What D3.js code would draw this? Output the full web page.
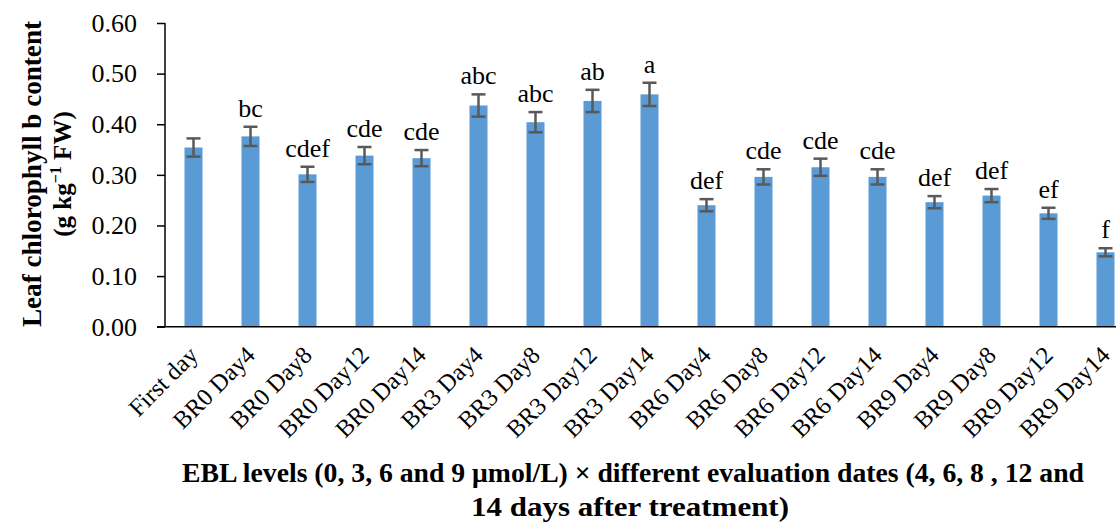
<!DOCTYPE html>
<html>
<head>
<meta charset="utf-8">
<script src="https://cdn.jsdelivr.net/npm/d3@7"></script>
<style>
  body { margin: 0; background: #fff; }
  svg { display: block; }
  text { font-family: "Liberation Serif", "Times New Roman", serif; fill: #000; }
</style>
</head>
<body>
<svg id="chart" width="1116" height="524"></svg>
<script>
// categories and values
var categories = ['First day', 'BR0 Day4', 'BR0 Day8', 'BR0 Day12', 'BR0 Day14',
  'BR3 Day4', 'BR3 Day8', 'BR3 Day12', 'BR3 Day14',
  'BR6 Day4', 'BR6 Day8', 'BR6 Day12', 'BR6 Day14',
  'BR9 Day4', 'BR9 Day8', 'BR9 Day12', 'BR9 Day14'];
var values = [0.354, 0.376, 0.301, 0.338, 0.333, 0.437, 0.404, 0.446, 0.459,
  0.240, 0.296, 0.315, 0.296, 0.246, 0.259, 0.224, 0.147];
var errors = [0.018, 0.019, 0.015, 0.017, 0.016, 0.022, 0.020, 0.022, 0.023,
  0.012, 0.015, 0.017, 0.015, 0.012, 0.013, 0.011, 0.008];
var letters = ['', 'bc', 'cdef', 'cde', 'cde', 'abc', 'abc', 'ab', 'a',
  'def', 'cde', 'cde', 'cde', 'def', 'def', 'ef', 'f'];
var yTicks = [0, 0.1, 0.2, 0.3, 0.4, 0.5, 0.6];

var svg = d3.select('#chart');

var plotLeft = 165, plotRight = 1134, plotTop = 23, plotBottom = 326.7;

var x = d3.scaleBand()
  .domain(categories)
  .range([plotLeft, plotRight])
  .paddingInner(0.684)
  .paddingOuter(0.342);

var y = d3.scaleLinear()
  .domain([0, 0.6])
  .range([plotBottom, plotTop]);

function cx(i) { return x(categories[i]) + x.bandwidth() / 2; }

// bars
svg.append('g')
  .selectAll('rect')
  .data(values)
  .enter().append('rect')
  .attr('x', function(d, i) { return x(categories[i]); })
  .attr('width', x.bandwidth())
  .attr('y', function(d) { return y(d); })
  .attr('height', function(d) { return y(0) - y(d); })
  .attr('fill', '#5B9BD5');

// error bars
var capHalf = 7;
var err = svg.append('g')
  .attr('stroke', '#595959')
  .attr('stroke-width', 2.5)
  .selectAll('g')
  .data(values)
  .enter().append('g');

err.append('line')
  .attr('x1', function(d, i) { return cx(i); })
  .attr('x2', function(d, i) { return cx(i); })
  .attr('y1', function(d, i) { return y(d + errors[i]); })
  .attr('y2', function(d, i) { return y(d - errors[i]); });

err.append('line')
  .attr('x1', function(d, i) { return cx(i) - capHalf; })
  .attr('x2', function(d, i) { return cx(i) + capHalf; })
  .attr('y1', function(d, i) { return y(d + errors[i]); })
  .attr('y2', function(d, i) { return y(d + errors[i]); });

err.append('line')
  .attr('x1', function(d, i) { return cx(i) - capHalf; })
  .attr('x2', function(d, i) { return cx(i) + capHalf; })
  .attr('y1', function(d, i) { return y(d - errors[i]); })
  .attr('y2', function(d, i) { return y(d - errors[i]); });

// significance letters
svg.append('g')
  .selectAll('text')
  .data(letters)
  .enter().append('text')
  .attr('x', function(d, i) { return cx(i); })
  .attr('y', function(d, i) { return y(values[i] + errors[i]) - 10; })
  .attr('text-anchor', 'middle')
  .style('font-size', '26px')
  .text(function(d) { return d; });

// y axis
var yAxis = svg.append('g')
  .attr('transform', 'translate(' + plotLeft + ',0)')
  .call(d3.axisLeft(y).tickValues(yTicks).tickFormat(d3.format('.2f')).tickSize(8).tickPadding(20));
yAxis.select('.domain').attr('stroke', '#000').attr('stroke-width', 1.5).attr('d', 'M0,' + plotTop + 'V' + plotBottom);
yAxis.selectAll('.tick line').attr('stroke', '#000').attr('stroke-width', 1.5);
yAxis.selectAll('.tick text')
  .style('font-family', '"Liberation Serif", serif')
  .style('font-size', '26px')
  .attr('fill', '#000');

// x axis (no ticks)
var xAxis = svg.append('g')
  .attr('transform', 'translate(0,' + plotBottom + ')')
  .call(d3.axisBottom(x).tickSize(0).tickPadding(0));
xAxis.select('.domain').attr('stroke', '#000').attr('stroke-width', 1.5).attr('d', 'M' + (plotLeft - 8) + ',0H1116');
xAxis.selectAll('.tick text')
  .style('font-family', '"Liberation Serif", serif')
  .style('font-size', '24.5px')
  .attr('fill', '#000')
  .attr('text-anchor', 'end')
  .attr('dy', 0)
  .attr('transform', 'translate(6,30) rotate(-45)');

// y axis title
var yTitle = svg.append('text')
  .attr('transform', 'translate(0,174) rotate(-90)')
  .attr('text-anchor', 'middle')
  .style('font-weight', 'bold')
  .style('font-size', '27px');
yTitle.append('tspan').attr('x', 0).attr('y', 41)
  .attr('textLength', 306).attr('lengthAdjust', 'spacingAndGlyphs')
  .text('Leaf chlorophyll b content');
yTitle.append('tspan').attr('x', 0).attr('y', 71).style('font-size', '25px').text('(g kg');
yTitle.append('tspan').attr('dy', -10).style('font-size', '16px').text('\u22121');
yTitle.append('tspan').attr('dy', 10).style('font-size', '25px').text(' FW)');

// x axis title
var xTitle = svg.append('text')
  .attr('text-anchor', 'middle')
  .style('font-weight', 'bold')
  .style('font-size', '28px');
xTitle.append('tspan').attr('x', 633).attr('y', 482)
  .attr('textLength', 902).attr('lengthAdjust', 'spacingAndGlyphs')
  .text('EBL levels (0, 3, 6 and 9 \u03bcmol/L) \u00d7 different evaluation dates (4, 6, 8 , 12 and');
xTitle.append('tspan').attr('x', 630).attr('y', 516)
  .attr('textLength', 318).attr('lengthAdjust', 'spacingAndGlyphs')
  .text('14 days after treatment)');
</script>
</body>
</html>
